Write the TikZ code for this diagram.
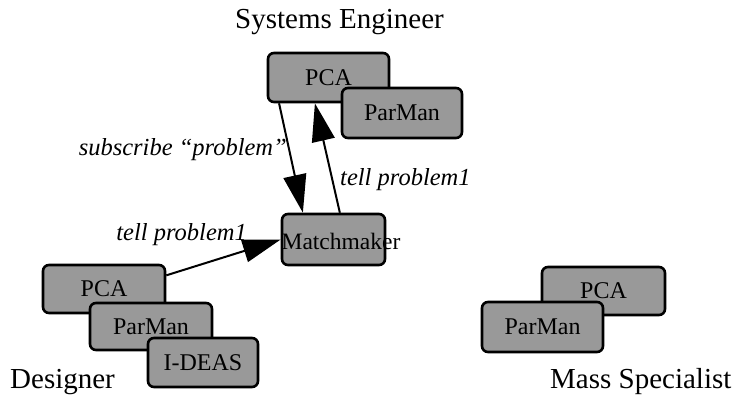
\documentclass[tikz,border=0pt]{standalone}
\usepackage{fontspec}
\setmainfont{Liberation Serif}
\usetikzlibrary{arrows.meta,calc}
\tikzset{
  agent/.style={draw=black, line width=2.6pt, rounded corners=6pt, fill=black!40,
    inner sep=0pt, anchor=center, font=\fontsize{24}{28}\selectfont},
  role/.style={anchor=base west, inner sep=0pt, font=\fontsize{29}{34}\selectfont},
  msg/.style={inner sep=0pt, font=\fontsize{24.5}{28}\selectfont\itshape},
  link/.style={line width=2pt, -{Triangle[length=38pt,width=23pt]}},
}
\begin{document}
\begin{tikzpicture}[x=1pt,y=-1pt]
\useasboundingbox (0,0) rectangle (735,400);
% Systems Engineer
\node[role] (se) at (235,28) {Systems Engineer};
\node[agent, minimum width=121pt, minimum height=49pt] (sepca) at (328.5,77.5) {PCA};
\node[agent, minimum width=120pt, minimum height=50pt] (separ) at (402,113) {ParMan};
% Matchmaker
\node[agent, minimum width=103pt, minimum height=51pt] (mm) at (333.5,239.5) {};
\node[inner sep=0pt, font=\fontsize{23.5}{27}\selectfont] (mmtext) at (341,241) {Matchmaker};
% Designer
\node[agent, minimum width=122pt, minimum height=48pt] (dpca) at (104,289) {PCA};
\node[agent, minimum width=122pt, minimum height=47pt] (dpar) at (151,326.5) {ParMan};
\node[agent, minimum width=110pt, minimum height=49pt] (dideas) at (203,362.5) {I-DEAS};
\node[role] (des) at (10,388) {Designer};
% Mass Specialist
\node[agent, minimum width=123pt, minimum height=48pt] (mpca) at (603.5,291) {PCA};
\node[agent, minimum width=121pt, minimum height=50pt] (mpar) at (542.5,327) {ParMan};
\node[role] (ms) at (550,388) {Mass Specialist};
% connectors
\coordinate (a1) at ($(sepca.south west)!0.10!(sepca.south east)$);
\coordinate (a2) at ($(mm.north west)!0.21!(mm.north east)$);
\draw[link] (a1) -- (a2);
\coordinate (b1) at ($(mm.north west)!0.56!(mm.north east)$);
\coordinate (b2) at ($(sepca.south west)!0.39!(sepca.south east)$);
\draw[link] (b1) -- (b2);
\coordinate (c1) at ($(dpca.north east)!0.23!(dpca.south east)$);
\draw[link] (c1) -- (mm.west);
% labels
\node[msg, anchor=base east] (l1) at (287,155) {subscribe “problem”};
\node[msg, anchor=base west] (l2) at (340,185) {tell problem1};
\node[msg, anchor=base east] (l3) at (247,240) {tell problem1};
\end{tikzpicture}
\end{document}
